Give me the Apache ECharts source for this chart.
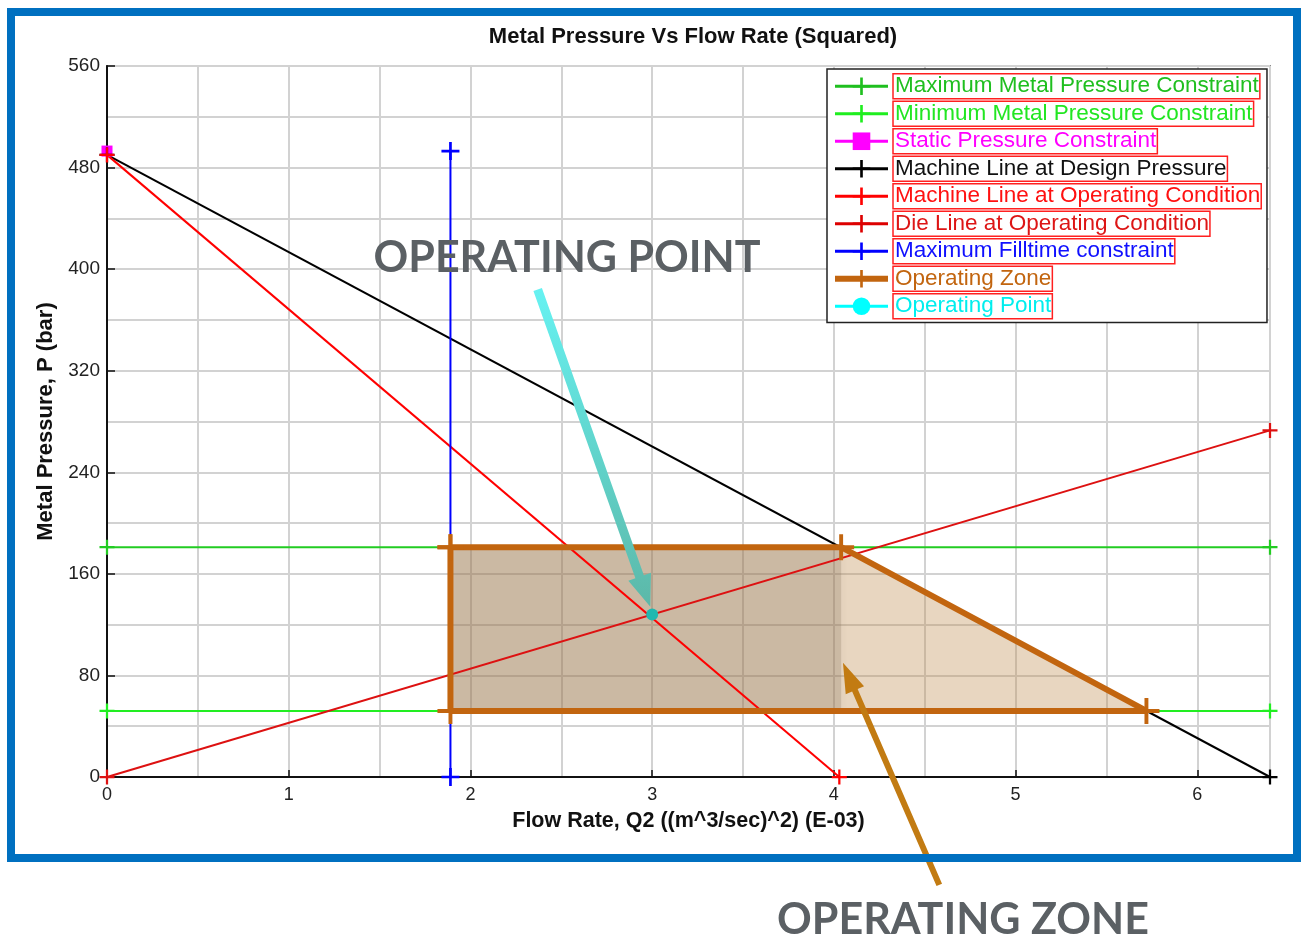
<!DOCTYPE html>
<html><head><meta charset="utf-8">
<script src="https://cdn.jsdelivr.net/npm/echarts@6/dist/echarts.min.js"></script>
<style>html,body{margin:0;padding:0;background:#fff}#c{width:1302px;height:940px}</style>
</head><body><div id="c"></div>
<script>
// ---- data (x in E-03 (m^3/s)^2, y in bar) ----
const xTicks = [0, 1, 2, 3, 4, 5, 6];
const yTicks = [0, 80, 160, 240, 320, 400, 480, 560];
const maxPressure = [[0, 181], [6.4, 181]];
const minPressure = [[0, 52], [6.4, 52]];
const staticPressure = [[0, 493]];
const machineDesign = [[0, 490], [6.4, 0]];
const machineOperating = [[0, 490], [4.03, 0]];
const dieLine = [[0, 0], [6.4, 273]];
const maxFilltime = [[1.89, 0], [1.89, 493]];
const zoneX = [1.89, 4.04, 5.72, 1.89, 1.89];
const zoneY = [181, 181, 52, 52, 181];
const rectX = [1.89, 4.04];
const rectY = [52, 181];
const operatingPoint = [[3.0, 128]];
// annotation anchors (data units)
const pointArrow = [[2.37, 384], [2.99, 134]];
const zoneArrow = [[4.58, -85], [4.05, 90]];

const PLUS = 'path://M8.5,0h3v8.5h8.5v3h-8.5v8.5h-3v-8.5h-8.5v-3h8.5z';
const FONT = '"Liberation Sans", Arial, sans-serif';

function lineSeries(name, data, color, extra) {
  return Object.assign({
    name, type: 'line', data, symbol: PLUS, symbolSize: 15,
    showAllSymbol: true, animation: false,
    lineStyle: { color, width: 2 }, itemStyle: { color },
    emphasis: { disabled: true }, z: 3
  }, extra || {});
}

const zone = zoneX.map((x, i) => [x, zoneY[i]]);

const legendItems = [
  ['Maximum Metal Pressure Constraint', '#1fbf1f', '#1fbf1f', 3],
  ['Minimum Metal Pressure Constraint', '#22e622', '#1fee1f', 3],
  ['Static Pressure Constraint', '#ff00ff', '#ff00ff', 3],
  ['Machine Line at Design Pressure', '#111111', '#000000', 3],
  ['Machine Line at Operating Condition', '#ff1010', '#ff0000', 3],
  ['Die Line at Operating Condition', '#dd1515', '#dd0000', 3],
  ['Maximum Filltime constraint', '#1010ff', '#0000ff', 3],
  ['Operating Zone', '#c2650f', '#c2650f', 6],
  ['Operating Point', '#00eeee', '#00ffff', 3]
];

const chart = echarts.init(document.getElementById('c'), null, { renderer: 'canvas' });

const option = {
  animation: false,
  backgroundColor: '#fff',
  title: {
    text: 'Metal Pressure Vs Flow Rate (Squared)', left: 688, top: 21, textAlign: 'center',
    textStyle: { fontFamily: FONT, fontSize: 22, fontWeight: 'bold', color: '#111' }
  },
  grid: { left: 107, right: 32, top: 66, bottom: 163, show: true, borderColor: '#333', borderWidth: 1.5, backgroundColor: 'transparent' },
  xAxis: {
    type: 'value', min: 0, max: 6.4, interval: 1,
    name: 'Flow Rate, Q2 ((m^3/sec)^2) (E-03)', nameLocation: 'middle', nameGap: 33,
    nameTextStyle: { fontFamily: FONT, fontSize: 21.5, fontWeight: 'bold', color: '#111' },
    axisLine: { lineStyle: { color: '#111', width: 2 } },
    axisTick: { inside: true, length: 7, lineStyle: { color: '#111', width: 1.5 } },
    axisLabel: { fontFamily: FONT, fontSize: 18, color: '#222', margin: 9,
      formatter: v => xTicks.includes(v) ? String(v) : '' },
    splitLine: { show: true, lineStyle: { color: '#d2d2d2', width: 2 } },
    minorTick: { show: false, splitNumber: 2 },
    minorSplitLine: { show: true, lineStyle: { color: '#d2d2d2', width: 2 } }
  },
  yAxis: {
    type: 'value', min: 0, max: 560, interval: 80,
    name: 'Metal Pressure, P (bar)', nameLocation: 'middle', nameGap: 44,
    nameTextStyle: { fontFamily: FONT, fontSize: 22, fontWeight: 'bold', color: '#111' },
    axisLine: { show: true, lineStyle: { color: '#111', width: 2 } },
    axisTick: { show: true, inside: true, length: 8, lineStyle: { color: '#111', width: 1.5 } },
    axisLabel: { fontFamily: FONT, fontSize: 19, color: '#222', margin: 7,
      formatter: v => yTicks.includes(v) ? String(v) : '' },
    splitLine: { show: true, lineStyle: { color: '#d2d2d2', width: 2 } },
    minorTick: { show: false, splitNumber: 2 },
    minorSplitLine: { show: true, lineStyle: { color: '#d2d2d2', width: 2 } }
  },
  legend: {
    orient: 'vertical', left: 827, top: 69, padding: [4, 5, 3, 5], itemGap: 1,
    itemWidth: 53, itemHeight: 22,
    backgroundColor: '#fff', borderColor: '#222', borderWidth: 1.5,
    selectedMode: false,
    data: legendItems.map(([n, tc, ic, w]) => ({
      name: n,
      itemStyle: { color: ic },
      lineStyle: { color: ic, width: w },
      textStyle: { color: tc, fontFamily: FONT, fontSize: 22.5, borderColor: '#ff2020', borderWidth: 1.5, padding: [1, 1, 0, 2], lineHeight: 24 }
    }))
  },
  series: [
    {
      name: 'zoneFill', type: 'custom', silent: true, z: 1, animation: false,
      data: [[0, 0]],
      renderItem: (params, api) => {
        const pts = zone.map(p => api.coord(p));
        const a = api.coord([rectX[0], rectY[1]]);
        const b = api.coord([rectX[1], rectY[0]]);
        return {
          type: 'group', children: [
            { type: 'polygon', shape: { points: pts }, style: { fill: 'rgba(190,140,80,0.36)' } },
            { type: 'rect', shape: { x: a[0], y: a[1], width: b[0] - a[0], height: b[1] - a[1] },
              style: { fill: 'rgba(130,110,85,0.23)', shadowBlur: 6, shadowColor: 'rgba(0,0,0,0.12)', shadowOffsetX: 3 } }
          ]
        };
      }
    },
    lineSeries('Maximum Metal Pressure Constraint', maxPressure, '#22cc22'),
    lineSeries('Minimum Metal Pressure Constraint', minPressure, '#22ee22'),
    lineSeries('Static Pressure Constraint', staticPressure, '#ff00ff', { symbol: 'rect', symbolSize: 11 }),
    lineSeries('Machine Line at Design Pressure', machineDesign, '#000000'),
    lineSeries('Machine Line at Operating Condition', machineOperating, '#ff0000'),
    lineSeries('Die Line at Operating Condition', dieLine, '#dd1111'),
    lineSeries('Maximum Filltime constraint', maxFilltime, '#0000ff', { symbolSize: 18 }),
    lineSeries('Operating Zone', zone, '#c2650f', { symbolSize: 26, lineStyle: { color: '#c2650f', width: 6 }, z: 4 }),
    lineSeries('Operating Point', operatingPoint, '#20b8b0', { symbol: 'circle', symbolSize: 12, z: 6 })
  ]
};
chart.setOption(option);

function arrowPolygon(p0, p1, shaftW, headW, headL) {
  const dx = p1[0] - p0[0], dy = p1[1] - p0[1];
  const L = Math.hypot(dx, dy); const ux = dx / L, uy = dy / L; const nx = -uy, ny = ux;
  const bx = p1[0] - ux * headL, by = p1[1] - uy * headL;
  return [
    [p0[0] + nx * shaftW / 2, p0[1] + ny * shaftW / 2],
    [bx + nx * shaftW / 2, by + ny * shaftW / 2],
    [bx + nx * headW / 2, by + ny * headW / 2],
    [p1[0], p1[1]],
    [bx - nx * headW / 2, by - ny * headW / 2],
    [bx - nx * shaftW / 2, by - ny * shaftW / 2],
    [p0[0] - nx * shaftW / 2, p0[1] - ny * shaftW / 2]
  ];
}
const toPx = p => chart.convertToPixel({ gridIndex: 0 }, p);
const pa0 = toPx(pointArrow[0]), pa1 = toPx(pointArrow[1]);
const za0 = toPx(zoneArrow[0]), za1 = toPx(zoneArrow[1]);

chart.setOption({
  graphic: [
    { type: 'rect', shape: { x: 11, y: 12, width: 1286, height: 846 }, style: { fill: 'none', stroke: '#0070c0', lineWidth: 8 }, z: 100, silent: true },
    { type: 'polygon', shape: { points: arrowPolygon(pa0, pa1, 9, 24, 32) },
      style: { fill: { type: 'linear', x: 0, y: 0, x2: 0, y2: 1, colorStops: [{ offset: 0, color: '#66f2f2' }, { offset: 1, color: '#5cb8a8' }] } }, z: 50, silent: true },
    { type: 'polygon', shape: { points: arrowPolygon(za0, za1, 6, 20, 30) },
      style: { fill: '#c27b12' }, z: 50, silent: true },
    { type: 'text', x: 567, y: 258, style: { text: 'OPERATING POINT', font: 'bold 43px Lato, "Open Sans", sans-serif', fill: '#5b6064', textAlign: 'center', textVerticalAlign: 'middle' }, z: 60, silent: true },
    { type: 'text', x: 963, y: 920, style: { text: 'OPERATING ZONE', font: 'bold 43px Lato, "Open Sans", sans-serif', fill: '#5b6064', textAlign: 'center', textVerticalAlign: 'middle' }, z: 60, silent: true }
  ]
});
</script>
</body></html>
